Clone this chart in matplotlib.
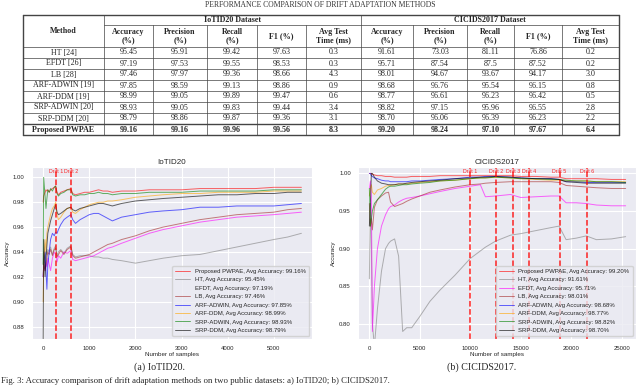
import matplotlib
matplotlib.use('Agg')
import matplotlib.pyplot as plt
import seaborn as sns

# ---------------------------------------------------------------
#   table data
# ---------------------------------------------------------------
methods = ['HT [24]', 'EFDT [26]', 'LB [28]', 'ARF-ADWIN [19]', 'ARF-DDM [19]',
           'SRP-ADWIN [20]', 'SRP-DDM [20]', 'Proposed PWPAE']
metric_headers = ['Accuracy\n(%)', 'Precision\n(%)', 'Recall\n(%)', 'F1 (%)', 'Avg Test\nTime (ms)']
datasets = ['IoTID20 Dataset', 'CICIDS2017 Dataset']

iot_table = [
    ['95.45', '95.91', '99.42', '97.63', '0.3'],
    ['97.19', '97.53', '99.55', '98.53', '0.3'],
    ['97.46', '97.97', '99.36', '98.66', '4.3'],
    ['97.85', '98.59', '99.13', '98.86', '0.9'],
    ['98.99', '99.05', '99.89', '99.47', '0.6'],
    ['98.93', '99.05', '99.83', '99.44', '3.4'],
    ['98.79', '98.86', '99.87', '99.36', '3.1'],
    ['99.16', '99.16', '99.96', '99.56', '8.3'],
]
cic_table = [
    ['91.61', '73.03', '81.11', '76.86', '0.2'],
    ['95.71', '87.54', '87.5', '87.52', '0.2'],
    ['98.01', '94.67', '93.67', '94.17', '3.0'],
    ['98.68', '96.76', '95.54', '96.15', '0.8'],
    ['98.77', '96.61', '96.23', '96.42', '0.5'],
    ['98.82', '97.15', '95.96', '96.55', '2.8'],
    ['98.70', '96.06', '96.39', '96.23', '2.2'],
    ['99.20', '98.24', '97.10', '97.67', '6.4'],
]

# ---------------------------------------------------------------
#   accuracy curves, IoTID20
# ---------------------------------------------------------------
iot_x = [0, 10, 40, 60, 80, 100, 130, 160, 200, 240, 270, 300, 330, 380, 450, 520, 600, 640,
         700, 800, 900, 1000, 1100, 1200, 1300, 1400, 1500, 1700, 2000, 2300, 2600, 3000, 3400,
         3800, 4200, 4600, 5000, 5300, 5600]
iot_pwpae = [0.98, 0.985, 0.988, 0.99, 0.989, 0.99, 0.988, 0.99, 0.991, 0.992, 0.993, 0.988, 0.986,
             0.988, 0.989, 0.990, 0.991, 0.987, 0.986, 0.987, 0.988, 0.988, 0.989, 0.990, 0.989,
             0.989, 0.988, 0.989, 0.989, 0.990, 0.990, 0.990, 0.991, 0.991, 0.991, 0.991, 0.992,
             0.992, 0.992]
iot_ht = [0.93, 0.94, 0.935, 0.94, 0.938, 0.942, 0.94, 0.944, 0.938, 0.943, 0.945, 0.937, 0.94,
          0.942, 0.939, 0.943, 0.945, 0.938, 0.936, 0.937, 0.937, 0.937, 0.936, 0.936, 0.935,
          0.935, 0.934, 0.933, 0.931, 0.933, 0.935, 0.937, 0.938, 0.941, 0.944, 0.947, 0.950,
          0.952, 0.955]
iot_efdt = [0.92, 0.93, 0.925, 0.932, 0.928, 0.935, 0.93, 0.925, 0.935, 0.940, 0.938, 0.932, 0.937,
            0.935, 0.940, 0.939, 0.941, 0.934, 0.933, 0.934, 0.935, 0.936, 0.937, 0.939, 0.941,
            0.943, 0.944, 0.947, 0.951, 0.955, 0.958, 0.961, 0.964, 0.966, 0.968, 0.969, 0.970,
            0.971, 0.972]
iot_lb = [0.92, 0.93, 0.925, 0.93, 0.935, 0.94, 0.938, 0.942, 0.937, 0.942, 0.943, 0.936, 0.938,
          0.941, 0.938, 0.942, 0.944, 0.937, 0.935, 0.936, 0.937, 0.938, 0.94, 0.942, 0.944,
          0.946, 0.947, 0.950, 0.953, 0.957, 0.960, 0.963, 0.966, 0.968, 0.970, 0.971, 0.972,
          0.974, 0.975]
iot_arf_adwin = [0.92, 0.93, 0.94, 0.925, 0.91, 0.93, 0.94, 0.95, 0.955, 0.953, 0.956, 0.955, 0.958,
                 0.962, 0.966, 0.968, 0.970, 0.966, 0.963, 0.966, 0.968, 0.970, 0.971, 0.971, 0.969,
                 0.967, 0.965, 0.968, 0.970, 0.972, 0.973, 0.974, 0.976, 0.976, 0.977, 0.977, 0.977,
                 0.978, 0.979]
iot_arf_ddm = [0.90, 0.93, 0.95, 0.94, 0.955, 0.96, 0.965, 0.97, 0.975, 0.977, 0.98, 0.97, 0.966,
               0.968, 0.972, 0.975, 0.976, 0.972, 0.971, 0.974, 0.976, 0.978, 0.979, 0.980, 0.980,
               0.981, 0.981, 0.982, 0.984, 0.985, 0.986, 0.987, 0.987, 0.988, 0.988, 0.988, 0.989,
               0.989, 0.989]
iot_srp_adwin = [0.93, 1.0, 0.985, 0.975, 0.983, 0.99, 0.988, 0.991, 0.989, 0.992, 0.993, 0.987, 0.985,
                 0.987, 0.988, 0.990, 0.990, 0.986, 0.985, 0.986, 0.986, 0.987, 0.987, 0.988, 0.987,
                 0.987, 0.986, 0.987, 0.987, 0.988, 0.988, 0.988, 0.989, 0.989, 0.989, 0.989, 0.990,
                 0.990, 0.990]
iot_srp_ddm = [0.87, 0.95, 0.92, 0.935, 0.945, 0.955, 0.96, 0.965, 0.97, 0.975, 0.978, 0.972, 0.970,
               0.971, 0.973, 0.975, 0.976, 0.974, 0.973, 0.975, 0.976, 0.977, 0.978, 0.979, 0.979,
               0.978, 0.977, 0.979, 0.981, 0.982, 0.983, 0.984, 0.985, 0.986, 0.986, 0.987, 0.987,
               0.988, 0.988]
iot_drifts = [270, 600]

# ---------------------------------------------------------------
#   accuracy curves, CICIDS2017
# ---------------------------------------------------------------
cic_x = [0, 100, 200, 300, 500, 800, 1200, 1600, 1900, 2100, 2500, 2900, 3300, 3700, 4200, 5000,
         6000, 7000, 8500, 10000, 11000, 11500, 12500, 14000, 15000, 16500, 18000, 18800, 19500,
         20500, 21500, 22500, 24000, 25400]
cic_pwpae = [1.0, 1.0, 1.0, 0.999, 0.998, 0.997, 0.997, 0.996, 0.996, 0.996, 0.995, 0.995, 0.995,
             0.995, 0.996, 0.996, 0.996, 0.997, 0.997, 0.997, 0.997, 0.997, 0.997, 0.997, 0.996,
             0.996, 0.995, 0.995, 0.993, 0.993, 0.993, 0.993, 0.992, 0.992]
cic_ht = [0.86, 0.96, 0.90, 0.80, 0.77, 0.82, 0.87, 0.90, 0.907, 0.91, 0.913, 0.89, 0.79, 0.795,
          0.795, 0.81, 0.83, 0.845, 0.865, 0.887, 0.897, 0.902, 0.91, 0.918, 0.92, 0.924, 0.928,
          0.93, 0.912, 0.914, 0.917, 0.912, 0.913, 0.916]
cic_efdt = [0.98, 0.99, 0.97, 0.79, 0.85, 0.90, 0.93, 0.945, 0.953, 0.956, 0.958, 0.962, 0.965,
            0.967, 0.968, 0.970, 0.973, 0.976, 0.980, 0.983, 0.985, 0.969, 0.970, 0.972, 0.968,
            0.969, 0.970, 0.970, 0.961, 0.961, 0.960, 0.958, 0.957, 0.957]
cic_lb = [0.96, 0.93, 0.94, 0.925, 0.955, 0.965, 0.97, 0.974, 0.975, 0.962, 0.956, 0.958, 0.960,
          0.963, 0.966, 0.970, 0.975, 0.978, 0.982, 0.985, 0.986, 0.987, 0.988, 0.989, 0.989,
          0.989, 0.989, 0.988, 0.984, 0.983, 0.982, 0.981, 0.980, 0.980]
cic_arf_adwin = [1.0, 1.0, 0.997, 0.996, 0.994, 0.993, 0.991, 0.990, 0.990, 0.989, 0.989, 0.989,
                 0.989, 0.989, 0.990, 0.990, 0.991, 0.992, 0.993, 0.995, 0.995, 0.996, 0.996, 0.995,
                 0.994, 0.993, 0.993, 0.992, 0.989, 0.989, 0.988, 0.988, 0.988, 0.988]
cic_arf_ddm = [0.97, 0.98, 0.985, 0.975, 0.972, 0.978, 0.98, 0.983, 0.984, 0.984, 0.985, 0.986,
               0.986, 0.986, 0.987, 0.988, 0.989, 0.990, 0.991, 0.993, 0.994, 0.994, 0.995, 0.994,
               0.993, 0.992, 0.991, 0.991, 0.990, 0.990, 0.990, 0.989, 0.989, 0.989]
cic_srp_adwin = [0.98, 0.93, 0.94, 0.95, 0.96, 0.965, 0.972, 0.979, 0.982, 0.983, 0.983, 0.984,
                 0.985, 0.985, 0.986, 0.987, 0.988, 0.990, 0.991, 0.993, 0.994, 0.994, 0.995, 0.994,
                 0.993, 0.993, 0.992, 0.992, 0.991, 0.990, 0.990, 0.989, 0.989, 0.988]
cic_srp_ddm = [0.93, 0.96, 1.0, 1.0, 0.995, 0.99, 0.987, 0.986, 0.985, 0.985, 0.985, 0.986, 0.986,
               0.987, 0.988, 0.989, 0.990, 0.991, 0.993, 0.994, 0.995, 0.995, 0.996, 0.995, 0.994,
               0.993, 0.993, 0.992, 0.989, 0.988, 0.987, 0.987, 0.987, 0.987]
cic_drifts = [10000, 12600, 14200, 15800, 18850, 21600]

names = ['Proposed PWPAE', 'HT', 'EFDT', 'LB', 'ARF-ADWIN', 'ARF-DDM', 'SRP-ADWIN', 'SRP-DDM']
colors = ['red', 'gray', 'magenta', 'brown', 'blue', 'orange', 'green', 'black']

################################################################
#     FIGURE                                                   #
################################################################
sns.set_style('darkgrid')
plt.rcParams['font.family'] = ['Liberation Sans', 'DejaVu Sans']

fig = plt.figure(figsize=(6.4, 3.87), dpi=100)

# page overlay in pixel coordinates (table + captions)
pg = fig.add_axes([0, 0, 1, 1], zorder=5)
pg.set_xlim(0, 640)
pg.set_ylim(387, 0)
pg.axis('off')
pg.patch.set_visible(False)
serif = ['Liberation Serif', 'DejaVu Serif']

pg.text(320, 5, 'PERFORMANCE COMPARISON OF DRIFT ADAPTATION METHODS', ha='center', va='center',
        fontsize=5.5, family=serif, color='#333333')

col_edges = [23, 104, 153, 207, 257, 306, 361, 413, 467, 514, 562, 619]
row_edges = [15, 47, 58, 69, 80, 91, 102, 113, 124, 135]
lc = '#444444'
for y in row_edges:
    lw = 1.0 if y in (15, 124, 135) else 0.5
    pg.plot([col_edges[0], col_edges[-1]], [y, y], color=lc, lw=lw)
pg.plot([col_edges[1], col_edges[-1]], [25, 25], color=lc, lw=0.5)
for x in col_edges:
    top = 15 if x in (23, 104, 361, 619) else 25
    lw = 1.0 if x in (23, 619) else 0.5
    pg.plot([x, x], [top, 135], color=lc, lw=lw)

pg.text((col_edges[0] + col_edges[1]) / 2, 31, 'Method', ha='center', va='center',
        fontsize=5.8, family=serif, weight='bold')
pg.text((col_edges[1] + col_edges[6]) / 2, 20, datasets[0], ha='center', va='center',
        fontsize=5.8, family=serif, weight='bold')
pg.text((col_edges[6] + col_edges[11]) / 2, 20, datasets[1], ha='center', va='center',
        fontsize=5.8, family=serif, weight='bold')
for k in range(10):
    cx = (col_edges[k + 1] + col_edges[k + 2]) / 2
    pg.text(cx, 36, metric_headers[k % 5], ha='center', va='center', fontsize=5.8,
            family=serif, weight='bold', linespacing=1.1)

for r in range(len(methods)):
    cy = (row_edges[r + 1] + row_edges[r + 2]) / 2
    wt = 'bold' if r == len(methods) - 1 else 'normal'
    pg.text((col_edges[0] + col_edges[1]) / 2, cy, methods[r], ha='center', va='center',
            fontsize=5.8, family=serif, weight=wt)
    vals = iot_table[r] + cic_table[r]
    for k in range(10):
        cx = (col_edges[k + 1] + col_edges[k + 2]) / 2
        pg.text(cx, cy, vals[k], ha='center', va='center', fontsize=5.8, family=serif, weight=wt)

pg.text(160, 367, '(a) IoTID20.', ha='center', va='center', fontsize=7.2, family=serif)
pg.text(482, 367, '(b) CICIDS2017.', ha='center', va='center', fontsize=7.2, family=serif)
pg.text(1, 381, 'Fig. 3: Accuracy comparison of drift adaptation methods on two public datasets: '
        'a) IoTID20; b) CICIDS2017.', ha='left', va='center', fontsize=6.3, family=serif)


def draw_panel(ax, x, series, accs, drifts, title, xlim, ylim, yticks, xticks, hide_efdt):
    for s, name, c, a in zip(series, names, colors, accs):
        ax.plot(x, s, color=c, lw=0.7, alpha=0.6,
                label=name + ', Avg Accuracy: ' + a + '%')
    for i, d in enumerate(drifts):
        ax.axvline(d, color='red', ls='--', lw=1.1, alpha=0.85)
        ax.text(d, ylim[1] - (ylim[1] - ylim[0]) * 0.012, 'Drift ' + str(i + 1), color='red',
                fontsize=3.8, ha='center', va='top', alpha=0.85)
    ax.set_xlim(xlim)
    ax.set_ylim(ylim)
    ax.set_yticks(yticks)
    ax.set_xticks(xticks)
    ax.tick_params(labelsize=4.3, pad=1.5)
    ax.set_title(title, fontsize=5.8, pad=2)
    ax.set_xlabel('Number of samples', fontsize=4.5, labelpad=0.5)
    ax.set_ylabel('Accuracy', fontsize=4.5, labelpad=2)
    leg = ax.legend(loc='lower right', fontsize=4.3, handlelength=2.5, borderpad=0.5,
                    labelspacing=0.55, framealpha=0.8)
    if hide_efdt:
        leg.get_lines()[2].set_visible(False)


iot_accs = [iot_table[-1][0]] + [row[0] for row in iot_table[:7]]
cic_accs = [cic_table[-1][0]] + [row[0] for row in cic_table[:7]]

ax1 = fig.add_axes([0.0495, 0.124, 0.438, 0.445])
draw_panel(ax1, iot_x,
           [iot_pwpae, iot_ht, iot_efdt, iot_lb, iot_arf_adwin, iot_arf_ddm, iot_srp_adwin, iot_srp_ddm],
           iot_accs, iot_drifts, 'IoTID20', (-250, 5830), (0.870, 1.0085),
           [0.88, 0.90, 0.92, 0.94, 0.96, 0.98, 1.00], [0, 1000, 2000, 3000, 4000, 5000], True)

ax2 = fig.add_axes([0.559, 0.124, 0.434, 0.445])
draw_panel(ax2, cic_x,
           [cic_pwpae, cic_ht, cic_efdt, cic_lb, cic_arf_adwin, cic_arf_ddm, cic_srp_adwin, cic_srp_ddm],
           cic_accs, cic_drifts, 'CICIDS2017', (-1150, 26380), (0.780, 1.0088),
           [0.80, 0.85, 0.90, 0.95, 1.00], [0, 5000, 10000, 15000, 20000, 25000], False)

plt.savefig('out.png', dpi=100)
